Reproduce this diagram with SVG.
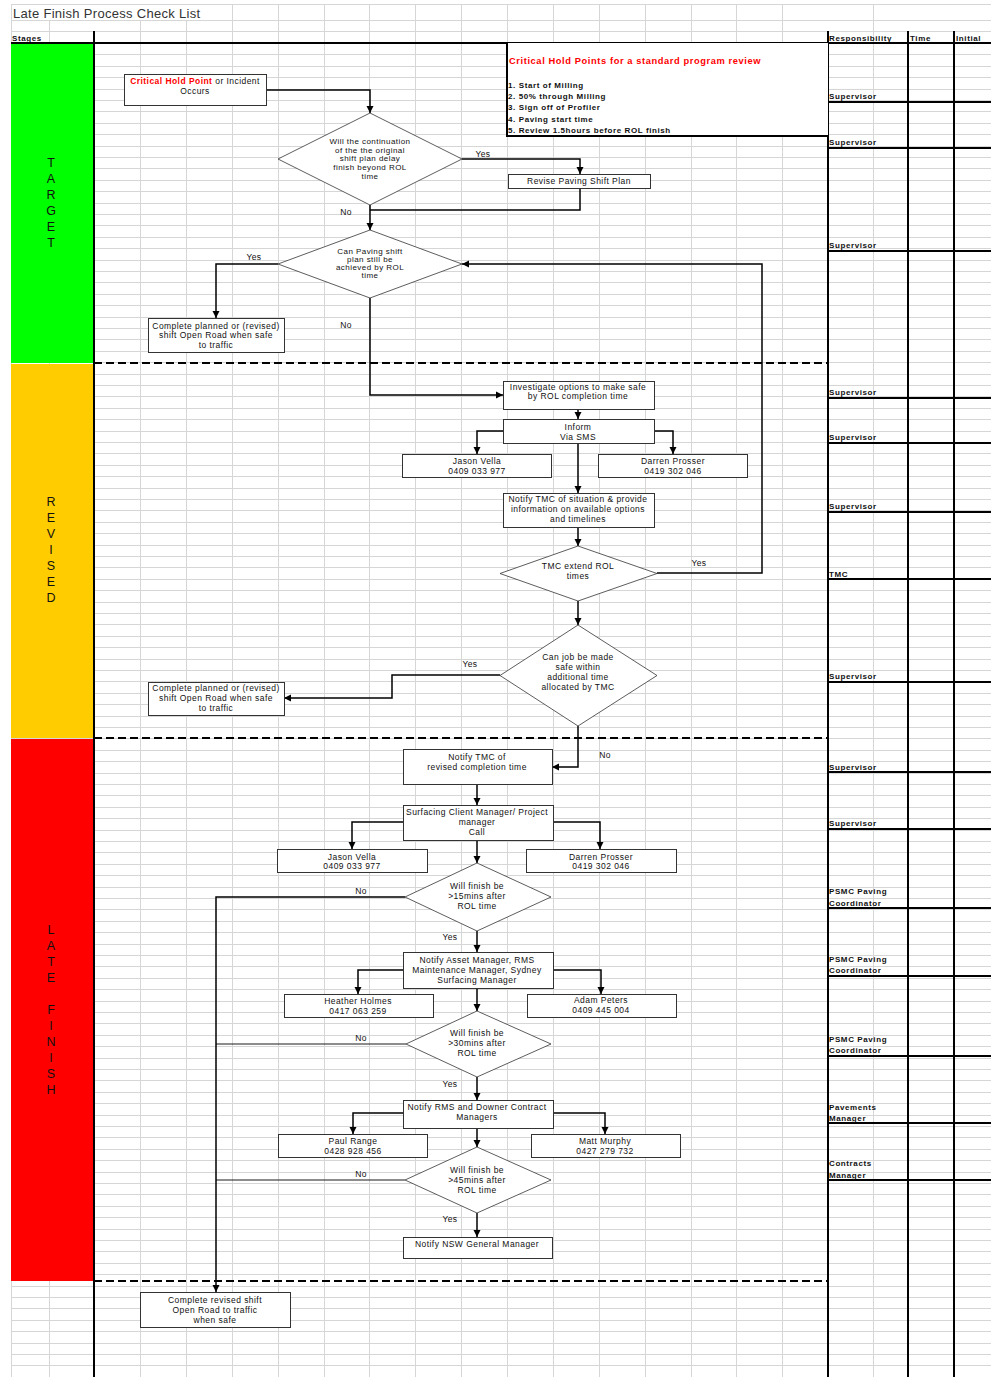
<svg xmlns="http://www.w3.org/2000/svg" width="991" height="1377" viewBox="0 0 991 1377">
<style>
text{font-family:"Liberation Sans",Arial,sans-serif;dominant-baseline:central;fill:#111}
.t{font-size:8.5px;letter-spacing:0.45px;text-anchor:middle}
.td{font-size:8px;letter-spacing:0.45px;text-anchor:middle}
.lbl{font-size:8.5px;letter-spacing:0.4px;text-anchor:middle}
.hdr{font-size:8px;font-weight:bold;letter-spacing:0.6px}
.resp{font-size:8px;font-weight:bold;letter-spacing:0.6px}
.stg{font-size:12.5px;text-anchor:middle}
.box{fill:#fff;stroke:#333;stroke-width:1}
.dia{fill:#fff;stroke:#333;stroke-width:0.8}
.grid{stroke:#d6d6d6;stroke-width:1;fill:none}
.thick{stroke:#000;stroke-width:2;fill:none}
.dash{stroke:#000;stroke-width:2;stroke-dasharray:8 4;fill:none}
.con{stroke:#000;stroke-width:1.5;fill:none}
.conA{stroke:#000;stroke-width:1.5;fill:none;marker-end:url(#arr)}
.thin{stroke:#000;stroke-width:0.9;fill:none}
.redb{fill:#f00;font-weight:bold}
</style>
<defs>
<marker id="arr" markerUnits="userSpaceOnUse" markerWidth="8" markerHeight="8" refX="7" refY="4" orient="auto">
<path d="M0,0.5 L7,4 L0,7.5 z" fill="#000"/>
</marker>
</defs>
<rect width="991" height="1377" fill="#fff"/>
<g id="gridlines">
<path class="grid" d="M11 4.5H991M11 20.5H991M11 31.5H991M11 54.5H991M11 66.5H991M11 77.5H991M11 89.5H991M11 100.5H991M11 111.5H991M11 123.5H991M11 134.5H991M11 146.5H991M11 157.5H991M11 168.5H991M11 180.5H991M11 191.5H991M11 203.5H991M11 214.5H991M11 225.5H991M11 237.5H991M11 248.5H991M11 260.5H991M11 271.5H991M11 282.5H991M11 294.5H991M11 305.5H991M11 317.5H991M11 328.5H991M11 339.5H991M11 351.5H991M11 362.5H991M11 374.5H991M11 385.5H991M11 396.5H991M11 408.5H991M11 419.5H991M11 431.5H991M11 442.5H991M11 453.5H991M11 465.5H991M11 476.5H991M11 488.5H991M11 499.5H991M11 510.5H991M11 522.5H991M11 533.5H991M11 545.5H991M11 556.5H991M11 567.5H991M11 579.5H991M11 590.5H991M11 602.5H991M11 613.5H991M11 624.5H991M11 636.5H991M11 647.5H991M11 659.5H991M11 670.5H991M11 681.5H991M11 693.5H991M11 704.5H991M11 716.5H991M11 727.5H991M11 738.5H991M11 750.5H991M11 761.5H991M11 773.5H991M11 784.5H991M11 795.5H991M11 807.5H991M11 818.5H991M11 830.5H991M11 841.5H991M11 852.5H991M11 864.5H991M11 875.5H991M11 887.5H991M11 898.5H991M11 909.5H991M11 921.5H991M11 932.5H991M11 944.5H991M11 955.5H991M11 966.5H991M11 978.5H991M11 989.5H991M11 1001.5H991M11 1012.5H991M11 1023.5H991M11 1035.5H991M11 1046.5H991M11 1058.5H991M11 1069.5H991M11 1080.5H991M11 1092.5H991M11 1103.5H991M11 1115.5H991M11 1126.5H991M11 1137.5H991M11 1149.5H991M11 1160.5H991M11 1172.5H991M11 1183.5H991M11 1194.5H991M11 1206.5H991M11 1217.5H991M11 1229.5H991M11 1240.5H991M11 1251.5H991M11 1263.5H991M11 1274.5H991M11 1286.5H991M11 1297.5H991M11 1308.5H991M11 1320.5H991M11 1331.5H991M11 1343.5H991M11 1354.5H991M11 1365.5H991"/>
<path class="grid" d="M11.5 4V1377M49.5 4V1377M140.5 4V1377M186.5 4V1377M232.5 4V1377M278.5 4V1377M324.5 4V1377M369.5 4V1377M415.5 4V1377M461.5 4V1377M507.5 4V1377M553.5 4V1377M599.5 4V1377M645.5 4V1377M691.5 4V1377M736.5 4V1377M782.5 4V1377M873.5 4V1377"/>
<rect x="12" y="5" width="219" height="15" fill="#fff"/>
</g>
<g id="title">
<text x="13" y="13" style="font-size:13px;fill:#333;letter-spacing:0.3px">Late Finish Process Check List</text>
<text x="12" y="38" class="hdr">Stages</text>
<text x="829" y="38" class="hdr">Responsibility</text>
<text x="910" y="38" class="hdr">Time</text>
<text x="956" y="38" class="hdr">Initial</text>
</g>
<g id="stage-target">
<rect x="11" y="44" width="82" height="319" fill="#00ff00"/>
<text class="stg" x="51" y="163">T</text><text class="stg" x="51" y="179">A</text><text class="stg" x="51" y="195">R</text><text class="stg" x="51" y="211">G</text><text class="stg" x="51" y="227">E</text><text class="stg" x="51" y="243">T</text>
</g>
<g id="stage-revised">
<rect x="11" y="364" width="82" height="374" fill="#ffcc00"/>
<text class="stg" x="51" y="502">R</text><text class="stg" x="51" y="518">E</text><text class="stg" x="51" y="534">V</text><text class="stg" x="51" y="550">I</text><text class="stg" x="51" y="566">S</text><text class="stg" x="51" y="582">E</text><text class="stg" x="51" y="598">D</text>
</g>
<g id="stage-late">
<rect x="11" y="739" width="82" height="542" fill="#ff0000"/>
<text class="stg" x="51" y="930">L</text><text class="stg" x="51" y="946">A</text><text class="stg" x="51" y="962">T</text><text class="stg" x="51" y="978">E</text><text class="stg" x="51" y="1010">F</text><text class="stg" x="51" y="1026">I</text><text class="stg" x="51" y="1042">N</text><text class="stg" x="51" y="1058">I</text><text class="stg" x="51" y="1074">S</text><text class="stg" x="51" y="1090">H</text>
</g>
<g id="frame">
<path class="thick" d="M11 43H991M94 31V1377M828 31V1377M908 31V1377M954 31V1377"/>
<path class="thick" d="M828 102H991M828 148H991M828 251H991M828 398H991M828 443H991M828 512H991M828 579H991M828 682H991M828 772H991M828 829H991M828 908H991M828 976H991M828 1056H991M828 1123H991M828 1180H991"/>
<path class="dash" d="M94 363H828M94 738H828M94 1281H828"/>
</g>
<g id="responsibility">
<text class="resp" x="829" y="96">Supervisor</text>
<text class="resp" x="829" y="142">Supervisor</text>
<text class="resp" x="829" y="245">Supervisor</text>
<text class="resp" x="829" y="392">Supervisor</text>
<text class="resp" x="829" y="437">Supervisor</text>
<text class="resp" x="829" y="506">Supervisor</text>
<text class="resp" x="829" y="574">TMC</text>
<text class="resp" x="829" y="676">Supervisor</text>
<text class="resp" x="829" y="767">Supervisor</text>
<text class="resp" x="829" y="823">Supervisor</text>
<text class="resp" x="829" y="891">PSMC Paving</text><text class="resp" x="829" y="903">Coordinator</text>
<text class="resp" x="829" y="959">PSMC Paving</text><text class="resp" x="829" y="970">Coordinator</text>
<text class="resp" x="829" y="1039">PSMC Paving</text><text class="resp" x="829" y="1050">Coordinator</text>
<text class="resp" x="829" y="1107">Pavements</text><text class="resp" x="829" y="1118">Manager</text>
<text class="resp" x="829" y="1163">Contracts</text><text class="resp" x="829" y="1175">Manager</text>
</g>
<g id="hold-points">
<rect x="507" y="43" width="321" height="93" fill="#fff"/>
<path class="thick" d="M507 43V137M506 136H828"/>
<text x="509" y="61" style="font-size:9.3px;font-weight:bold;fill:#f00;letter-spacing:0.6px">Critical Hold Points for a standard program review</text>
<text class="hdr" x="508" y="85">1. Start of Milling</text>
<text class="hdr" x="508" y="96">2. 50% through Milling</text>
<text class="hdr" x="508" y="107">3. Sign off of Profiler</text>
<text class="hdr" x="508" y="119">4. Paving start time</text>
<text class="hdr" x="508" y="130">5. Review 1.5hours before ROL finish</text>
</g>
<g id="connectors">
<polyline class="conA" points="266,90 370,90 370,113"/>
<polyline class="conA" points="462,159 580,159 580,174"/>
<polyline class="con" points="580,188 580,210 370,210"/>
<polyline class="conA" points="370,205 370,230"/>
<polyline class="conA" points="278,264 216,264 216,318"/>
<polyline class="conA" points="370,298 370,395 503,395"/>
<polyline class="conA" points="657,573 762,573 762,264 462,264"/>
<polyline class="conA" points="578,409 578,419"/>
<polyline class="conA" points="503,431 477,431 477,454"/>
<polyline class="conA" points="654,431 673,431 673,454"/>
<polyline class="conA" points="578,443 578,493"/>
<polyline class="conA" points="578,527 578,546"/>
<polyline class="conA" points="578,601 578,625"/>
<polyline class="conA" points="500,675 392,675 392,698 284,698"/>
<polyline class="conA" points="578,726 578,767 552,767"/>
<polyline class="conA" points="477,784 477,805"/>
<polyline class="conA" points="403,822 352,822 352,849"/>
<polyline class="conA" points="553,822 600,822 600,849"/>
<polyline class="conA" points="477,840 477,863"/>
<polyline class="conA" points="405,897 216,897 216,1292"/>
<polyline class="conA" points="477,931 477,952"/>
<polyline class="conA" points="403,970 358,970 358,994"/>
<polyline class="conA" points="553,970 601,970 601,994"/>
<polyline class="conA" points="477,988 477,1011"/>
<polyline class="thin" points="406,1044 216,1044"/>
<polyline class="conA" points="477,1077 477,1100"/>
<polyline class="conA" points="403,1113 353,1113 353,1134"/>
<polyline class="conA" points="553,1113 605,1113 605,1134"/>
<polyline class="conA" points="477,1128 477,1147"/>
<polyline class="thin" points="405,1180 216,1180"/>
<polyline class="conA" points="477,1213 477,1237"/>
<text class="lbl" x="483" y="154">Yes</text>
<text class="lbl" x="346" y="212">No</text>
<text class="lbl" x="254" y="257">Yes</text>
<text class="lbl" x="346" y="325">No</text>
<text class="lbl" x="699" y="563">Yes</text>
<text class="lbl" x="470" y="664">Yes</text>
<text class="lbl" x="605" y="755">No</text>
<text class="lbl" x="361" y="891">No</text>
<text class="lbl" x="450" y="937">Yes</text>
<text class="lbl" x="361" y="1038">No</text>
<text class="lbl" x="450" y="1084">Yes</text>
<text class="lbl" x="361" y="1174">No</text>
<text class="lbl" x="450" y="1219">Yes</text>
</g>
<g id="n-incident">
<rect class="box" x="124.5" y="74.5" width="142" height="31"/>
<text class="t" x="195" y="81"><tspan class="redb">Critical Hold Point</tspan> or Incident</text>
<text class="t" x="195" y="91">Occurs</text>
</g>
<g id="d-continuation">
<polygon class="dia" points="370,113 462,159 370,205 278,159"/>
<text class="td" x="370" y="141.5">Will the continuation</text>
<text class="td" x="370" y="150.2">of the the original</text>
<text class="td" x="370" y="158.9">shift plan delay</text>
<text class="td" x="370" y="167.6">finish beyond ROL</text>
<text class="td" x="370" y="176.3">time</text>
</g>
<g id="n-revise">
<rect class="box" x="508.5" y="174.5" width="142" height="14"/>
<text class="t" x="579" y="181">Revise Paving Shift Plan</text>
</g>
<g id="d-achieve">
<polygon class="dia" points="370,230 462,264 370,298 278,264"/>
<text class="td" x="370" y="251">Can Paving shift</text>
<text class="td" x="370" y="259.3">plan still be</text>
<text class="td" x="370" y="267.6">achieved by ROL</text>
<text class="td" x="370" y="275.9">time</text>
</g>
<g id="n-complete1">
<rect class="box" x="148.5" y="318.5" width="136" height="34"/>
<text class="t" x="216" y="326">Complete planned or (revised)</text>
<text class="t" x="216" y="335">shift Open Road when safe</text>
<text class="t" x="216" y="345">to traffic</text>
</g>
<g id="n-investigate">
<rect class="box" x="503.5" y="381.5" width="151" height="28"/>
<text class="t" x="578" y="387">Investigate options to make safe</text>
<text class="t" x="578" y="396">by ROL completion time</text>
</g>
<g id="n-inform">
<rect class="box" x="503.5" y="419.5" width="151" height="24"/>
<text class="t" x="578" y="427">Inform</text>
<text class="t" x="578" y="437">Via SMS</text>
</g>
<g id="n-jason1">
<rect class="box" x="402.5" y="454.5" width="149" height="23"/>
<text class="t" x="477" y="461">Jason Vella</text>
<text class="t" x="477" y="471">0409 033 977</text>
</g>
<g id="n-darren1">
<rect class="box" x="598.5" y="454.5" width="149" height="23"/>
<text class="t" x="673" y="461">Darren Prosser</text>
<text class="t" x="673" y="471">0419 302 046</text>
</g>
<g id="n-notify-tmc">
<rect class="box" x="503.5" y="493.5" width="151" height="34"/>
<text class="t" x="578" y="499">Notify TMC of situation &amp; provide</text>
<text class="t" x="578" y="509">information on available options</text>
<text class="t" x="578" y="519">and timelines</text>
</g>
<g id="d-tmc-extend">
<polygon class="dia" points="578,546 657,573.5 578,601 500,573.5"/>
<text class="t" x="578" y="566">TMC extend ROL</text>
<text class="t" x="578" y="576">times</text>
</g>
<g id="d-safe">
<polygon class="dia" points="578,625 657,675.5 578,726 500,675.5"/>
<text class="t" x="578" y="657">Can job be made</text>
<text class="t" x="578" y="667">safe within</text>
<text class="t" x="578" y="677">additional time</text>
<text class="t" x="578" y="687">allocated by TMC</text>
</g>
<g id="n-complete2">
<rect class="box" x="148.5" y="682.5" width="136" height="33"/>
<text class="t" x="216" y="688">Complete planned or (revised)</text>
<text class="t" x="216" y="698">shift Open Road when safe</text>
<text class="t" x="216" y="708">to traffic</text>
</g>
<g id="n-tmc-revised">
<rect class="box" x="403.5" y="749.5" width="149" height="35"/>
<text class="t" x="477" y="757">Notify TMC of</text>
<text class="t" x="477" y="767">revised completion time</text>
</g>
<g id="n-surfacing">
<rect class="box" x="403.5" y="805.5" width="150" height="35"/>
<text class="t" x="477" y="812">Surfacing Client Manager/ Project</text>
<text class="t" x="477" y="822">manager</text>
<text class="t" x="477" y="832">Call</text>
</g>
<g id="n-jason2">
<rect class="box" x="277.5" y="849.5" width="150" height="23"/>
<text class="t" x="352" y="857">Jason Vella</text>
<text class="t" x="352" y="866">0409 033 977</text>
</g>
<g id="n-darren2">
<rect class="box" x="526.5" y="849.5" width="150" height="23"/>
<text class="t" x="601" y="857">Darren Prosser</text>
<text class="t" x="601" y="866">0419 302 046</text>
</g>
<g id="d-15">
<polygon class="dia" points="477,863 551,897 477,931 405,897"/>
<text class="t" x="477" y="886">Will finish be</text>
<text class="t" x="477" y="896">&gt;15mins after</text>
<text class="t" x="477" y="906">ROL time</text>
</g>
<g id="n-asset">
<rect class="box" x="403.5" y="952.5" width="150" height="36"/>
<text class="t" x="477" y="960">Notify Asset Manager, RMS</text>
<text class="t" x="477" y="970">Maintenance Manager, Sydney</text>
<text class="t" x="477" y="980">Surfacing Manager</text>
</g>
<g id="n-heather">
<rect class="box" x="284.5" y="994.5" width="149" height="23"/>
<text class="t" x="358" y="1001">Heather Holmes</text>
<text class="t" x="358" y="1011">0417 063 259</text>
</g>
<g id="n-adam">
<rect class="box" x="527.5" y="994.5" width="149" height="23"/>
<text class="t" x="601" y="1000">Adam Peters</text>
<text class="t" x="601" y="1010">0409 445 004</text>
</g>
<g id="d-30">
<polygon class="dia" points="477,1011 551,1044 477,1077 406,1044"/>
<text class="t" x="477" y="1033">Will finish be</text>
<text class="t" x="477" y="1043">&gt;30mins after</text>
<text class="t" x="477" y="1053">ROL time</text>
</g>
<g id="n-rms">
<rect class="box" x="403.5" y="1100.5" width="150" height="28"/>
<text class="t" x="477" y="1107">Notify RMS and Downer Contract</text>
<text class="t" x="477" y="1117">Managers</text>
</g>
<g id="n-paul">
<rect class="box" x="278.5" y="1134.5" width="149" height="23"/>
<text class="t" x="353" y="1141">Paul Range</text>
<text class="t" x="353" y="1151">0428 928 456</text>
</g>
<g id="n-matt">
<rect class="box" x="531.5" y="1134.5" width="149" height="23"/>
<text class="t" x="605" y="1141">Matt Murphy</text>
<text class="t" x="605" y="1151">0427 279 732</text>
</g>
<g id="d-45">
<polygon class="dia" points="477,1147 551,1180 477,1213 405,1180"/>
<text class="t" x="477" y="1170">Will finish be</text>
<text class="t" x="477" y="1180">&gt;45mins after</text>
<text class="t" x="477" y="1190">ROL time</text>
</g>
<g id="n-nsw">
<rect class="box" x="403.5" y="1237.5" width="149" height="21"/>
<text class="t" x="477" y="1244">Notify NSW General Manager</text>
</g>
<g id="n-complete3">
<rect class="box" x="140.5" y="1292.5" width="150" height="35"/>
<text class="t" x="215" y="1300">Complete revised shift</text>
<text class="t" x="215" y="1310">Open Road to traffic</text>
<text class="t" x="215" y="1320">when safe</text>
</g>
</svg>
